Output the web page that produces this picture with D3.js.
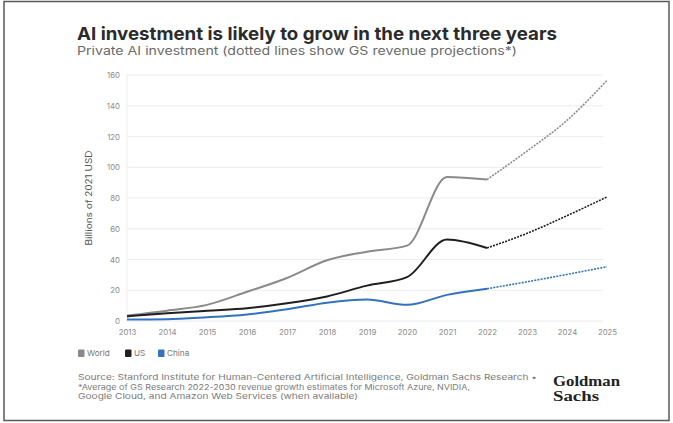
<!DOCTYPE html>
<html>
<head>
<meta charset="utf-8">
<script src="https://cdn.jsdelivr.net/npm/d3@7"></script>
<style>
  body { margin: 0; background: #fff; }
  svg { display: block; font-family: Inter, "Open Sans", sans-serif; }
</style>
</head>
<body>
<div id="chart"></div>
<script>
const years = [2013, 2014, 2015, 2016, 2017, 2018, 2019, 2020, 2021, 2022, 2023, 2024, 2025];
const world = [3.5, 6.7, 10.5, 19, 28, 39.5, 45, 49, 93.7, 92, 110.5, 130.5, 156.5];
const us    = [3, 5, 6.7, 8.3, 11.5, 16, 23, 28.5, 53, 47.5, 57, 68.5, 80.7];
const china = [1, 1.1, 2.4, 4.3, 7.6, 11.9, 14, 10.5, 17, 21, 25.5, 30.3, 35.3];
const yTicks = [0, 20, 40, 60, 80, 100, 120, 140, 160];
const projectionStart = 2022;

const seriesNames = ['World', 'US', 'China'];
const seriesColors = ['#8a8a8a', '#1f1f1f', '#3272c2'];
const seriesValues = [world, us, china];

const W = 673, H = 423;
const svg = d3.select('#chart').append('svg')
    .attr('width', W)
    .attr('height', H);

// frame
svg.append('rect')
    .attr('x', 4).attr('y', 1.5)
    .attr('width', 665).attr('height', 419)
    .attr('fill', 'none')
    .attr('stroke', '#5a5a5a')
    .attr('stroke-width', 1.5);

// titles
svg.append('text')
    .attr('x', 77).attr('y', 40)
    .attr('font-size', 18).attr('font-weight', 700)
    .attr('fill', '#2b2b2b')
    .attr('textLength', 480).attr('lengthAdjust', 'spacingAndGlyphs')
    .text('AI investment is likely to grow in the next three years');

svg.append('text')
    .attr('x', 77).attr('y', 55)
    .attr('font-size', 11.5)
    .attr('fill', '#6a6a6a')
    .attr('textLength', 440).attr('lengthAdjust', 'spacingAndGlyphs')
    .text('Private AI investment (dotted lines show GS revenue projections*)');

const x = d3.scaleLinear().domain([2013, 2025]).range([127, 607]);
const y = d3.scaleLinear().domain([0, 160]).range([321, 75]);

// gridlines
svg.append('g').selectAll('line')
    .data(yTicks)
    .join('line')
    .attr('x1', x(2013)).attr('x2', x(2025) - 4)
    .attr('y1', d => y(d)).attr('y2', d => y(d))
    .attr('stroke', '#ececec')
    .attr('stroke-width', 1);

svg.append('line')
    .attr('x1', x(2013)).attr('x2', x(2013))
    .attr('y1', y(160)).attr('y2', y(0))
    .attr('stroke', '#eeeeee');

// y axis labels
const yAxis = svg.append('g')
    .attr('transform', `translate(${x(2013) - 5},0)`)
    .call(d3.axisLeft(y).tickValues(yTicks).tickSize(0).tickPadding(2));
yAxis.select('.domain').remove();
yAxis.selectAll('text')
    .attr('font-size', 7.8)
    .attr('font-family', 'Inter, sans-serif')
    .attr('fill', '#8a8a8a');

// x axis labels
const xAxis = svg.append('g')
    .attr('transform', `translate(0,${y(0) + 6})`)
    .call(d3.axisBottom(x).tickValues(years).tickFormat(d3.format('d')).tickSize(0).tickPadding(2));
xAxis.select('.domain').remove();
xAxis.selectAll('text')
    .attr('font-size', 7.8)
    .attr('font-family', 'Inter, sans-serif')
    .attr('fill', '#8a8a8a');

// y axis title
svg.append('text')
    .attr('transform', 'translate(92,198) rotate(-90)')
    .attr('text-anchor', 'middle')
    .attr('font-size', 8.5)
    .attr('fill', '#555')
    .attr('textLength', 95).attr('lengthAdjust', 'spacingAndGlyphs')
    .text('Billions of 2021 USD');

// lines
const line = d3.line()
    .x(d => x(d.year))
    .y(d => y(d.value))
    .curve(d3.curveMonotoneX);

seriesValues.forEach((vals, i) => {
    const pts = years.map((yr, j) => ({year: yr, value: vals[j]}));
    const actual = pts.filter(d => d.year <= projectionStart);
    const proj = pts.filter(d => d.year >= projectionStart);
    svg.append('path')
        .datum(actual)
        .attr('fill', 'none')
        .attr('stroke', seriesColors[i])
        .attr('stroke-width', 2)
        .attr('stroke-linejoin', 'round')
        .attr('d', line);
    svg.append('path')
        .datum(proj)
        .attr('fill', 'none')
        .attr('stroke', seriesColors[i])
        .attr('stroke-width', 1.6)
        .attr('stroke-dasharray', '2,1.2')
        .attr('d', line);
});

// legend
const legendX = [78, 125, 158];
const legend = svg.append('g');
seriesNames.forEach((name, i) => {
    legend.append('rect')
        .attr('x', legendX[i]).attr('y', 349.5)
        .attr('width', 6.5).attr('height', 7.5)
        .attr('rx', 1)
        .attr('fill', seriesColors[i]);
    legend.append('text')
        .attr('x', legendX[i] + 9).attr('y', 356.2)
        .attr('font-size', 8.2)
        .attr('fill', '#777')
        .text(name);
});

// source
const sourceLines = [
    ['Source: Stanford Institute for Human-Centered Artificial Intelligence, Goldman Sachs Research •', 459],
    ['*Average of GS Research 2022-2030 revenue growth estimates for Microsoft Azure, NVIDIA,', 392],
    ['Google Cloud, and Amazon Web Services (when available)', 280]
];
svg.append('g').selectAll('text')
    .data(sourceLines)
    .join('text')
    .attr('x', 78)
    .attr('y', (d, i) => 380 + i * 9.6)
    .attr('font-size', 7.6)
    .attr('fill', '#7a7a7a')
    .attr('textLength', d => d[1])
    .attr('lengthAdjust', 'spacingAndGlyphs')
    .text(d => d[0]);

// logo
const logo = svg.append('g')
    .attr('font-family', '"Liberation Serif", "DejaVu Serif", serif')
    .attr('font-weight', 700)
    .attr('fill', '#222');
logo.append('text')
    .attr('x', 553).attr('y', 385.5)
    .attr('font-size', 14)
    .attr('textLength', 67).attr('lengthAdjust', 'spacingAndGlyphs')
    .text('Goldman');
logo.append('text')
    .attr('x', 553).attr('y', 401)
    .attr('font-size', 14)
    .attr('textLength', 46).attr('lengthAdjust', 'spacingAndGlyphs')
    .text('Sachs');
</script>
</body>
</html>
